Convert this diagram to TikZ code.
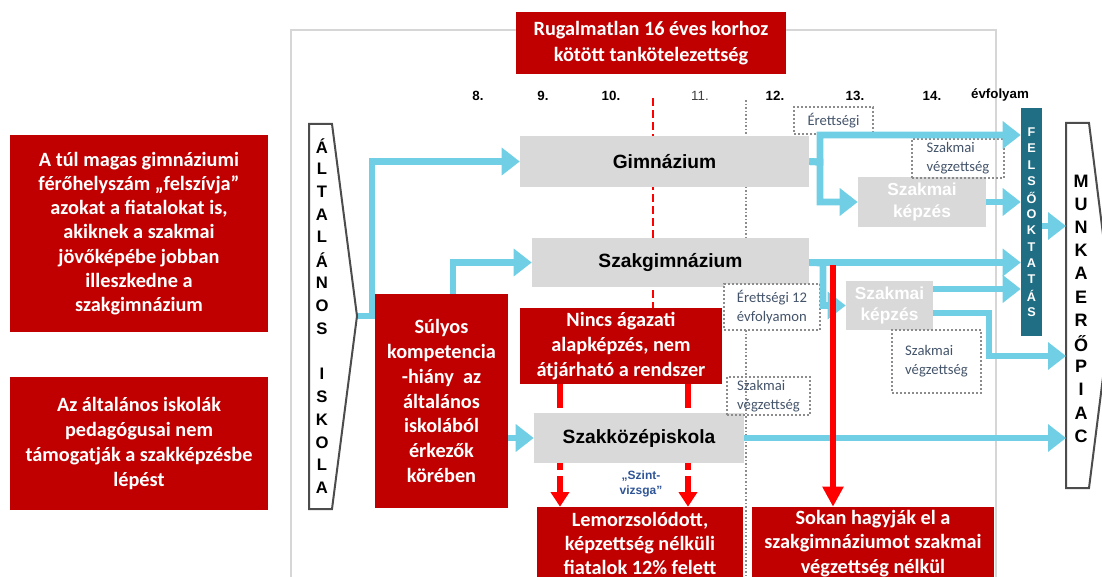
\documentclass[tikz,border=0pt]{standalone}
\usepackage{fontspec}
\setmainfont{Carlito}
\newfontfamily\arialfont{Liberation Sans}
\usetikzlibrary{arrows.meta}
\usetikzlibrary{backgrounds}

\definecolor{boxred}{HTML}{C00000}
\definecolor{dropred}{HTML}{FF0000}
\definecolor{flowblue}{HTML}{70CFE4}
\definecolor{schoolgray}{HTML}{D9D9D9}
\definecolor{framegray}{HTML}{D6D6D6}
\definecolor{dotgray}{HTML}{8C8C8C}
\definecolor{notetext}{HTML}{44546A}
\definecolor{uniteal}{HTML}{1F6E84}
\definecolor{examblue}{HTML}{2F5597}

\tikzset{
  span/.style n args={4}{at={({(#1+#3)/2},{(#2+#4)/2})},
                 minimum width={(#3-#1)*0.75pt}, minimum height={(#4-#2)*0.75pt}},
  redbox/.style={fill=boxred, text=white, align=center, inner sep=0pt,
                 font=\bfseries\fontsize{15.2}{18.6}\selectfont},
  schoolbox/.style={fill=schoolgray, inner sep=0pt,
                 font=\arialfont\bfseries\fontsize{14.4}{17}\selectfont},
  trainbox/.style={fill=schoolgray, text=white, align=center, inner sep=0pt,
                 font=\arialfont\bfseries\fontsize{13}{16}\selectfont},
  notebox/.style={draw=dotgray, line width=1.5pt, dash pattern=on 1.5pt off 1.5pt,
                 text=notetext, align=left, inner sep=0pt,
                 font=\fontsize{11}{14}\selectfont},
  yearlabel/.style={font=\arialfont\bfseries\fontsize{10}{11}\selectfont},
  flow/.style={draw=flowblue, line width=5.2pt,
               -{Triangle[length=13.5pt,width=20pt]}},
  dropout/.style={draw=dropred, line width=4.5pt,
               -{Triangle[length=11pt,width=13.5pt]}},
}

\begin{document}
\begin{tikzpicture}[x=0.75pt,y=-0.75pt]

  \useasboundingbox (0,0) rectangle (1102,577);

  % frame and grade dividers
  \draw[framegray, line width=2.2pt] (291,590) -- (291,30) -- (996,30) -- (996,590);
  \draw[dropred, line width=1.6pt, dash pattern=on 6pt off 3pt] (653,98) -- (653,308);
  \draw[dotgray, line width=1pt, dash pattern=on 1.2pt off 1.5pt] (746,100) -- (746,238);
  \draw[dotgray, line width=1pt, dash pattern=on 1.2pt off 1.5pt] (746,330) -- (746,590);

  % grades
  \path (478,96)  node (g8)  [yearlabel] {8.}
        (543,96)  node (g9)  [yearlabel] {9.}
        (611,96)  node (g10) [yearlabel] {10.}
        (700,96)  node (g11) [font=\arialfont\fontsize{10}{11}\selectfont, text=black!75] {11.}
        (775,96)  node (g12) [yearlabel] {12.}
        (855,96)  node (g13) [yearlabel] {13.}
        (932,96)  node (g14) [yearlabel] {14.}
        (1000,95) node (evf) [yearlabel] {évfolyam};

  % title
  \node (title) [redbox, span={516}{12}{786}{74}, font=\bfseries\fontsize{15.2}{19.5}\selectfont]
        {Rugalmatlan 16 éves korhoz\\kötött tankötelezettség};

  % problems on the left
  \node (felszivja) [redbox, span={10}{135}{268}{332}, font=\bfseries\fontsize{15.2}{18.2}\selectfont]
        {A túl magas gimnáziumi\\férőhelyszám „felszívja”\\azokat a fiatalokat is,\\akiknek a szakmai\\jövőképébe jobban\\illeszkedne a\\szakgimnázium};
  \node (pedagogus) [redbox, span={10}{377}{268}{510}]
        {Az általános iskolák\\pedagógusai nem\\támogatják a szakképzésbe\\lépést};

  % primary school
  \draw[black!70, line width=1.5pt, fill=white] (309,124) -- (332,124) -- (357,316) -- (332,509) -- (309,509) -- cycle;
  \coordinate (alttip) at (357,316);
  \foreach \ch [count=\i from 0] in {Á,L,T,A,L,Á,N,O,S,{},I,S,K,O,L,A}
    \node (alt\i) [font=\arialfont\bfseries\fontsize{12.5}{13}\selectfont] at (322,{146+22.8*\i}) {\ch};

  % labour market
  \draw[black!70, line width=1.5pt, fill=white] (1066,123) -- (1089,123) -- (1112,306) -- (1089,488) -- (1066,488) -- cycle;
  \coordinate (munw) at (1066,306);
  \foreach \ch [count=\i from 0] in {M,U,N,K,A,E,R,Ő,P,I,A,C}
    \node (mun\i) [font=\arialfont\bfseries\fontsize{13.5}{14}\selectfont] at (1081,{181+23.2*\i}) {\ch};

  % higher education
  \node (fel) [fill=uniteal, inner sep=0pt, span={1021}{108}{1042}{336}] {};
  \foreach \ch [count=\i from 0] in {F,E,L,S,Ő,O,K,T,A,T,Á,S}
    \node (fel\i) [text=white, font=\arialfont\bfseries\fontsize{9.5}{10}\selectfont] at (1031.5,{132+16.4*\i}) {\ch};

  % schools
  \node (gim) [schoolbox, span={520}{136}{809}{187}] {Gimnázium};
  \node (szg) [schoolbox, span={532}{238}{809}{287}] {Szakgimnázium};
  \node (szk) [schoolbox, span={534}{413}{744}{463}] {Szakközépiskola};
  \node (sk1) [trainbox, span={858}{177}{986}{227}] {Szakmai\\képzés};
  \node (sk2) [trainbox, span={846}{281}{933}{330}] {Szakmai\\képzés};

  % exams and qualifications
  \node (ert)  [notebox, span={794}{107}{873}{134}, align=center] {Érettségi};
  \node (veg1) [notebox, span={912}{139}{1004}{178}] {Szakmai\\végzettség};
  \node (ert12)[notebox, fill=white, span={724}{284}{820}{330}] {Érettségi 12\\évfolyamon};
  \node (veg2) [notebox, span={892}{330}{981}{393}] {Szakmai\\végzettség};
  \node (veg3) [notebox, span={727}{377}{810}{415}] {Szakmai\\végzettség};

  % problems in the middle
  \node (sulyos) [redbox, span={375}{294}{508}{508}]
        {Súlyos\\kompetencia\\-hiány~ az\\általános\\iskolából\\érkezők\\körében};
  \node (nincs) [redbox, span={520}{308}{722}{384}]
        {Nincs ágazati\\alapképzés, nem\\átjárható a rendszer};
  \node (lemorz) [redbox, span={537}{507}{743}{579}, font=\bfseries\fontsize{15.2}{18}\selectfont]
        {Lemorzsolódott,\\képzettség nélküli\\fiatalok 12\% felett};
  \node (sokan) [redbox, span={752}{507}{994}{580}]
        {Sokan hagyják el a\\szakgimnáziumot szakmai\\végzettség nélkül};
  \node (szint) [text=examblue, align=center, font=\arialfont\bfseries\fontsize{9}{11}\selectfont]
        at (641,484) {„Szint-\\vizsga”};

  % student flows
  \coordinate (gsplit) at (820,162);
  \coordinate (ssplit) at (823,263);
  \begin{scope}[on background layer]
    \draw[flow, -] (alttip) -- (sulyos.west |- alttip);
    \draw[flow] (alttip) -- (372,316) |- (gim.west);
    \draw[flow] ([xshift=8.6pt]sulyos.north) |- (szg.west);
  \end{scope}
  \draw[flow] (sulyos.east |- szk.west) -- (szk.west);
  \draw[flow] (gim.east) -- (gsplit) |- (fel.west |- ert.south);
  \draw[flow] (gim.east) -- (gsplit) |- (sk1.west);
  \draw[flow] (sk1.east) -- (sk1.east -| fel.west);
  \draw[flow] (fel.east |- 0,226) -- (munw |- 0,226);
  \draw[flow] (szg.east) -- (szg.east -| fel.west);
  \draw[flow] (szg.east) -- (ssplit) |- (sk2.west);
  \draw[flow] (sk2.east |- 0,289) -- (fel.west |- 0,289);
  \draw[flow] (sk2.east |- 0,313) -| (989,356) -- (munw |- 0,356);
  \draw[flow] (szk.east) -- (szk.east -| munw);

  % drop-outs
  \begin{scope}[on background layer]
    \draw[dropout, dash pattern=on 18pt off 5pt] (nincs.south -| 560,0) -- (lemorz.north -| 560,0);
    \draw[dropout, dash pattern=on 18pt off 5pt] (nincs.south -| 688,0) -- (lemorz.north -| 688,0);
  \end{scope}
  \coordinate (quit) at (833,265);
  \draw[dropout, line width=4pt, -{Triangle[length=15pt,width=15pt]}] (quit) -- (quit |- sokan.north);

\end{tikzpicture}
\end{document}
